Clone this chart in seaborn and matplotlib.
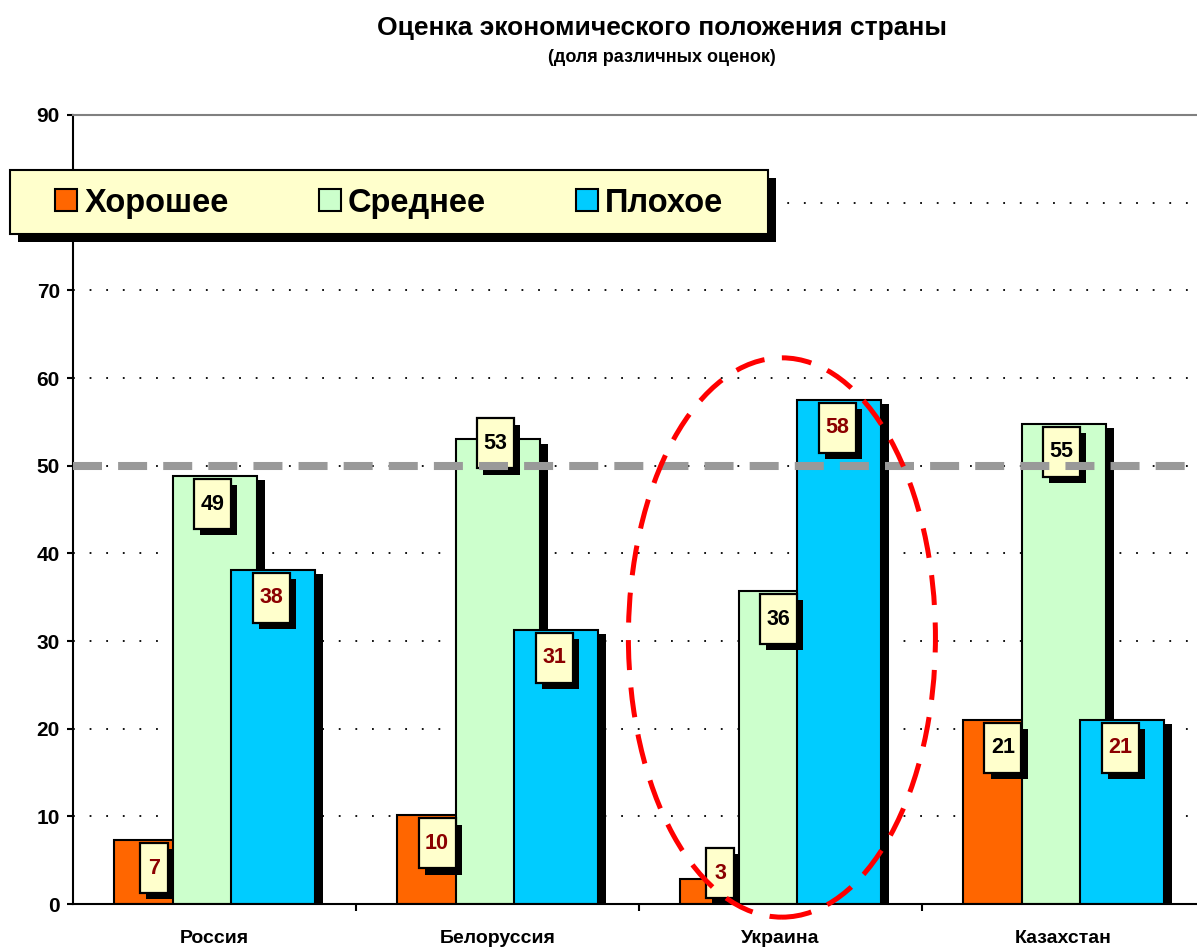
import numpy as np
import pandas as pd
import matplotlib
matplotlib.use("Agg")
import matplotlib.pyplot as plt
import matplotlib.patheffects as pe
from matplotlib.patches import Rectangle, Ellipse, Patch
import seaborn as sns

# data
countries = ["Россия", "Белоруссия", "Украина", "Казахстан"]
ratings = ["Хорошее", "Среднее", "Плохое"]
good = [7.3, 10.1, 2.8, 21.0]
average = [48.8, 53.0, 35.7, 54.8]
bad = [38.1, 31.3, 57.5, 21.0]
threshold = 50
y_ticks = [0, 10, 20, 30, 40, 50, 60, 70, 80, 90]
highlight = "Украина"
title = "Оценка экономического положения страны"
subtitle = "(доля различных оценок)"

# styles
colors = ["#FF6600", "#CCFFCC", "#00CCFF"]
dark_red = "#8B0000"
label_colors = [[dark_red, dark_red, dark_red, "black"],
                ["black", "black", "black", "black"],
                [dark_red, dark_red, dark_red, dark_red]]
label_lift_px = {(1, 1): 24}   # (country, series) label moved up by hand

df = pd.DataFrame({
    "country": countries * 3,
    "rating": np.repeat(ratings, len(countries)),
    "value": good + average + bad,
})

sns.set_style("white")
plt.rcParams["font.family"] = ["Liberation Sans", "DejaVu Sans"]
plt.rcParams["font.weight"] = "bold"
plt.rcParams["text.color"] = "black"
plt.rcParams["xtick.color"] = "black"
plt.rcParams["ytick.color"] = "black"

W, H, DPI = 1197, 947, 100
fig = plt.figure(figsize=(W / DPI, H / DPI), dpi=DPI)
ax = fig.add_axes([73 / W, (H - 904) / H, 1132 / W, 789 / H])

sns.barplot(data=df, x="country", y="value", hue="rating", order=countries,
            hue_order=ratings, palette=colors, saturation=1, errorbar=None,
            edgecolor="black", linewidth=1.5, legend=False, ax=ax)

ax.set_xlim(-0.5, len(countries) - 0.5)
ax.set_ylim(0, 90)

xpx = 1132 / len(countries)   # pixels per category
ypx = 789 / 90                # pixels per unit
bar_w = 84 / xpx
step = 58.5 / xpx

bar_shadow = [pe.SimplePatchShadow(offset=(6, -3), shadow_rgbFace="black", alpha=1), pe.Normal()]
box_shadow = [pe.SimplePatchShadow(offset=(4.5, -4.5), shadow_rgbFace="black", alpha=1), pe.Normal()]

for i, cont in enumerate(ax.containers):
    for bar in cont:
        j = int(round(bar.get_x() + bar.get_width() / 2))
        cx = j + (i - 1) * step
        bar.set_x(cx - bar_w / 2)
        bar.set_width(bar_w)
        bar.set_path_effects(bar_shadow)
        v = bar.get_height()
        txt = f"{v:.0f}"
        bw = (28 if len(txt) == 1 else 37) / xpx
        bh = 50 / ypx
        top = v - 3 / ypx + label_lift_px.get((j, i), 0) / ypx
        bottom = max(top - bh, 6 / ypx)
        bx = cx - 2 / xpx
        box = Rectangle((bx - bw / 2, bottom), bw, bh, fc="#FFFFCC", ec="black",
                        lw=1.6, zorder=5)
        box.set_path_effects(box_shadow)
        ax.add_patch(box)
        ax.text(bx, bottom + bh / 2, txt, ha="center", va="center", fontsize=15.5,
                fontweight="bold", color=label_colors[i][j], zorder=6)

ax.axhline(threshold, color="#999999", lw=5.8, linestyle=(0, (3.6, 2.0)), zorder=7)

k = countries.index(highlight)
ax.add_patch(Ellipse((k + 0.005, 30.4), 1.085, 63.8, fill=False, ec="red", lw=3.6,
                     linestyle=(0, (6, 3.5)), zorder=8, clip_on=False))

ax.set_axisbelow(True)
ax.yaxis.grid(True, color="black", linestyle=(0, (1, 8.2)), lw=1.3)
ax.xaxis.grid(False)
ax.set_yticks(y_ticks)
ax.set_xticks([x + 0.5 for x in range(len(countries) - 1)], minor=True)
ax.tick_params(axis="y", left=True, length=4.5, width=1.5, direction="out",
               labelsize=15, pad=5)
ax.tick_params(axis="x", which="major", bottom=True, length=0, labelsize=14, pad=19)
ax.tick_params(axis="x", which="minor", bottom=True, length=5, width=1.5, direction="out")
ax.set_xlabel("")
ax.set_ylabel("")
for s in ["left", "bottom"]:
    ax.spines[s].set_color("black")
    ax.spines[s].set_linewidth(1.5)
ax.spines["top"].set_color("#808080")
ax.spines["top"].set_linewidth(1.5)
ax.spines["right"].set_visible(False)

# legend with its own framed box
frame = Rectangle((10 / W, 1 - 234 / H), 758 / W, 64 / H, transform=fig.transFigure,
                  fc="#FFFFCC", ec="black", lw=1.5, zorder=10)
frame.set_path_effects([pe.SimplePatchShadow(offset=(5.5, -6), shadow_rgbFace="black", alpha=1),
                        pe.Normal()])
fig.patches.append(frame)
handles = [Patch(fc=c, ec="black", lw=1.5) for c in colors]
leg = fig.legend(handles, ratings, loc="center left", bbox_to_anchor=(55 / W, 1 - 203 / H),
                 ncol=3, frameon=False, prop={"size": 23.5, "weight": "bold"},
                 handlelength=0.68, handleheight=0.68, handletextpad=0.22,
                 columnspacing=2.75, borderpad=0, borderaxespad=0)
leg.set_zorder(11)

fig.text(662 / W, 1 - 28 / H, title, ha="center", va="center", fontsize=19, fontweight="bold")
fig.text(662 / W, 1 - 58 / H, subtitle, ha="center", va="center", fontsize=13, fontweight="bold")

fig.savefig("out.png", dpi=DPI)
